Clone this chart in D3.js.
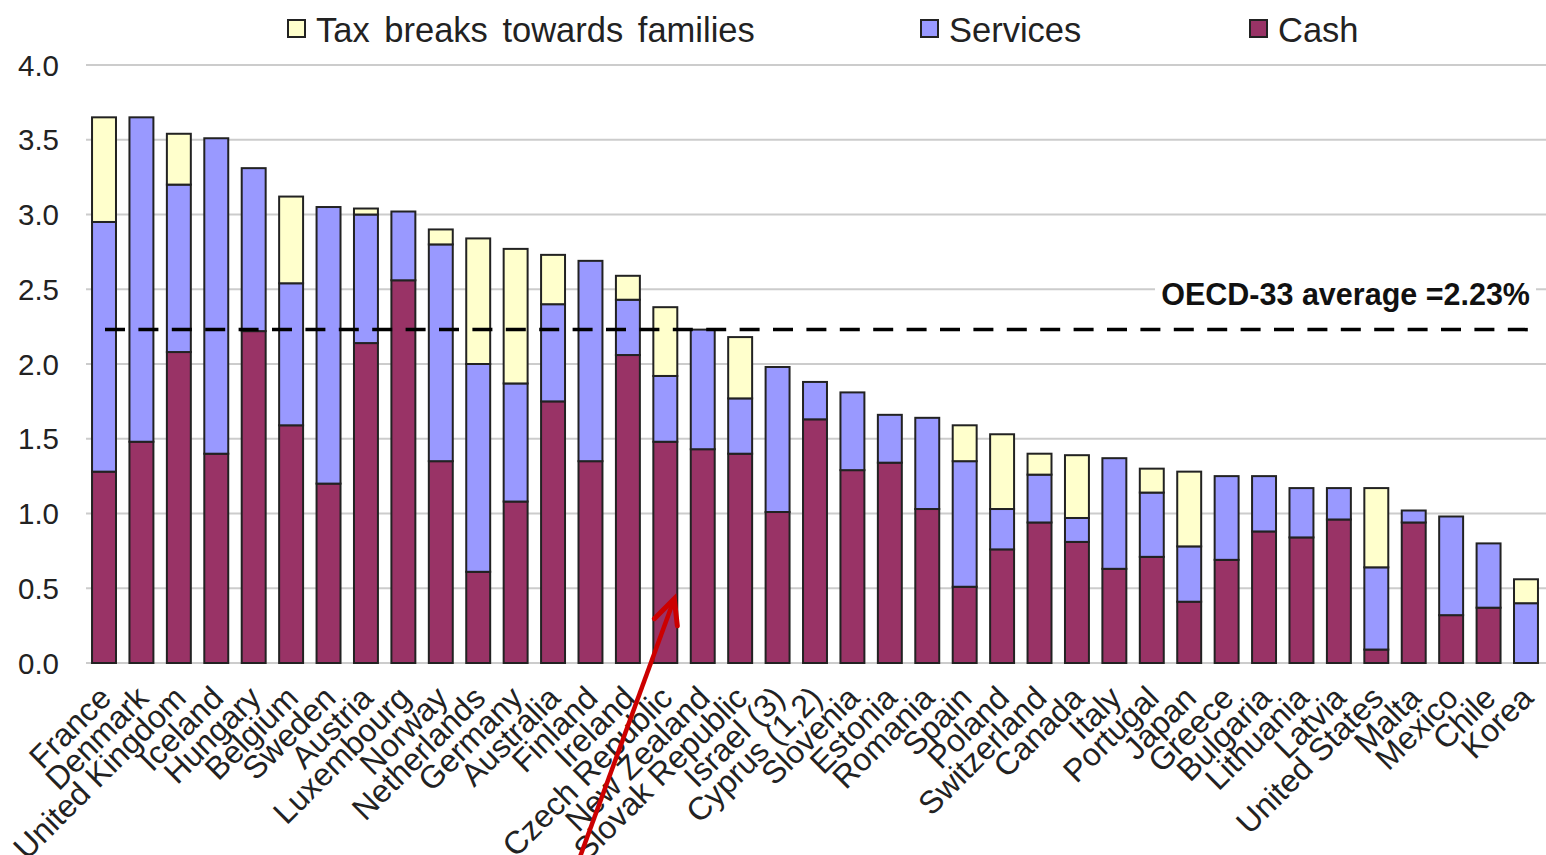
<!DOCTYPE html>
<html>
<head>
<meta charset="utf-8">
<script src="https://cdn.jsdelivr.net/npm/d3@7"></script>
<style>
  body { margin: 0; background: white; }
  #chart svg { display: block; }
</style>
</head>
<body>
<div id="chart"></div>
<script>
var countries = ["France", "Denmark", "United Kingdom", "Iceland", "Hungary", "Belgium", "Sweden",
    "Austria", "Luxembourg", "Norway", "Netherlands", "Germany", "Australia", "Finland", "Ireland",
    "Czech Republic", "New Zealand", "Slovak Republic", "Israel (3)", "Cyprus (1,2)", "Slovenia",
    "Estonia", "Romania", "Spain", "Poland", "Switzerland", "Canada", "Italy", "Portugal", "Japan",
    "Greece", "Bulgaria", "Lithuania", "Latvia", "United States", "Malta", "Mexico", "Chile", "Korea"];

// % of GDP
var cash = [1.28, 1.48, 2.08, 1.40, 2.22, 1.59, 1.20, 2.14, 2.56, 1.35, 0.61, 1.08, 1.75, 1.35, 2.06,
    1.48, 1.43, 1.40, 1.01, 1.63, 1.29, 1.34, 1.03, 0.51, 0.76, 0.94, 0.81, 0.63, 0.71, 0.41,
    0.69, 0.88, 0.84, 0.96, 0.09, 0.94, 0.32, 0.37, 0.00];
var services = [1.67, 2.17, 1.12, 2.11, 1.09, 0.95, 1.85, 0.86, 0.46, 1.45, 1.39, 0.79, 0.65, 1.34, 0.37,
    0.44, 0.80, 0.37, 0.97, 0.25, 0.52, 0.32, 0.61, 0.84, 0.27, 0.32, 0.16, 0.74, 0.43, 0.37,
    0.56, 0.37, 0.33, 0.21, 0.55, 0.08, 0.66, 0.43, 0.40];
var taxBreaks = [0.70, 0.00, 0.34, 0.00, 0.00, 0.58, 0.00, 0.04, 0.00, 0.10, 0.84, 0.90, 0.33, 0.00, 0.16,
    0.46, 0.00, 0.41, 0.00, 0.00, 0.00, 0.00, 0.00, 0.24, 0.50, 0.14, 0.42, 0.00, 0.16, 0.50,
    0.00, 0.00, 0.00, 0.00, 0.53, 0.00, 0.00, 0.00, 0.16];

var yTicks = [0, 0.5, 1.0, 1.5, 2.0, 2.5, 3.0, 3.5, 4.0];
var oecdAverage = 2.23;

var seriesKeys = ["cash", "services", "tax"];
var seriesNames = { tax: "Tax breaks towards families", services: "Services", cash: "Cash" };
var seriesColors = { tax: "#ffffcc", services: "#9999ff", cash: "#993366" };

var width = 1546;
var height = 855;
var margin = { top: 65, right: 1, bottom: 192, left: 86 };

var rows = countries.map(function(c, i) {
    return { country: c, cash: cash[i], services: services[i], tax: taxBreaks[i] };
});

var svg = d3.select("#chart")
  .append("svg")
    .attr("width", width)
    .attr("height", height)
    .style("font-family", "Arial, 'Liberation Sans', sans-serif");

var x = d3.scaleBand()
    .domain(countries)
    .range([margin.left - 0.7, width - margin.right - 0.3])
    .paddingInner(0.36)
    .paddingOuter(0.18);

var y = d3.scaleLinear()
    .domain([0, 4])
    .range([height - margin.bottom, margin.top]);

// gridlines
svg.append("g")
    .selectAll("line")
    .data(yTicks)
    .enter()
    .append("line")
      .attr("x1", margin.left)
      .attr("x2", width)
      .attr("y1", function(d) { return y(d); })
      .attr("y2", function(d) { return y(d); })
      .attr("stroke", "#cccccc")
      .attr("stroke-width", 2);

// y tick labels
svg.append("g")
    .selectAll("text")
    .data(yTicks)
    .enter()
    .append("text")
      .attr("x", 59)
      .attr("y", function(d) { return y(d); })
      .attr("dy", "0.36em")
      .attr("text-anchor", "end")
      .attr("font-size", 29.5)
      .attr("fill", "#222")
      .text(function(d) { return d3.format(".1f")(d); });

// stacked bars
var stacked = d3.stack().keys(seriesKeys)(rows);

svg.append("g")
    .selectAll("g")
    .data(stacked)
    .enter()
    .append("g")
      .attr("fill", function(d) { return seriesColors[d.key]; })
    .selectAll("rect")
    .data(function(d) { return d.filter(function(s) { return s[1] - s[0] > 0.001; }); })
    .enter()
    .append("rect")
      .attr("x", function(d) { return x(d.data.country); })
      .attr("y", function(d) { return y(d[1]); })
      .attr("width", x.bandwidth())
      .attr("height", function(d) { return y(d[0]) - y(d[1]); })
      .attr("stroke", "#222")
      .attr("stroke-width", 2);

// x labels
svg.append("g")
    .selectAll("text")
    .data(countries)
    .enter()
    .append("text")
      .attr("transform", function(d) {
          return "translate(" + (x(d) + x.bandwidth() / 2 + 9) + "," + (y(0) + 37) + ") rotate(-45)";
      })
      .attr("text-anchor", "end")
      .attr("font-size", 32)
      .attr("fill", "#222")
      .text(function(d) { return d; });

// OECD average
svg.append("rect")
    .attr("x", 1155)
    .attr("y", 278)
    .attr("width", 381)
    .attr("height", 34)
    .attr("fill", "white");

svg.append("text")
    .attr("x", 1530)
    .attr("y", 305)
    .attr("text-anchor", "end")
    .attr("font-size", 30.5)
    .attr("font-weight", "bold")
    .attr("fill", "#111")
    .text("OECD-33 average =" + oecdAverage + "%");

svg.append("line")
    .attr("x1", 105)
    .attr("x2", 1528)
    .attr("y1", y(oecdAverage))
    .attr("y2", y(oecdAverage))
    .attr("stroke", "#000")
    .attr("stroke-width", 3.5)
    .attr("stroke-dasharray", "20,13.4");

// legend
var legendItems = [
    { key: "tax", x: 288 },
    { key: "services", x: 921 },
    { key: "cash", x: 1250 }
];

var legend = svg.append("g")
    .selectAll("g")
    .data(legendItems)
    .enter()
    .append("g")
      .attr("transform", function(d) { return "translate(" + d.x + ",20)"; });

legend.append("rect")
    .attr("width", 17)
    .attr("height", 17)
    .attr("fill", function(d) { return seriesColors[d.key]; })
    .attr("stroke", "#222")
    .attr("stroke-width", 2);

legend.append("text")
    .attr("x", 28)
    .attr("y", 22)
    .attr("font-size", 34.5)
    .attr("word-spacing", 5)
    .attr("fill", "#222")
    .text(function(d) { return seriesNames[d.key]; });

// red arrow pointing at Czech Republic
var tipX = x("Czech Republic") + x.bandwidth() / 2 + 9;
var tipY = y(0.43);

svg.append("path")
    .attr("d", "M" + (tipX - 95) + "," + (tipY + 260) + "L" + tipX + "," + tipY)
    .attr("stroke", "#cc0000")
    .attr("stroke-width", 4.5)
    .attr("fill", "none");

svg.append("path")
    .attr("d", "M" + (tipX - 20) + "," + (tipY + 20) + "L" + tipX + "," + tipY + "L" + (tipX + 3) + "," + (tipY + 27))
    .attr("stroke", "#cc0000")
    .attr("stroke-width", 5)
    .attr("stroke-linecap", "round")
    .attr("fill", "none");
</script>
</body>
</html>
